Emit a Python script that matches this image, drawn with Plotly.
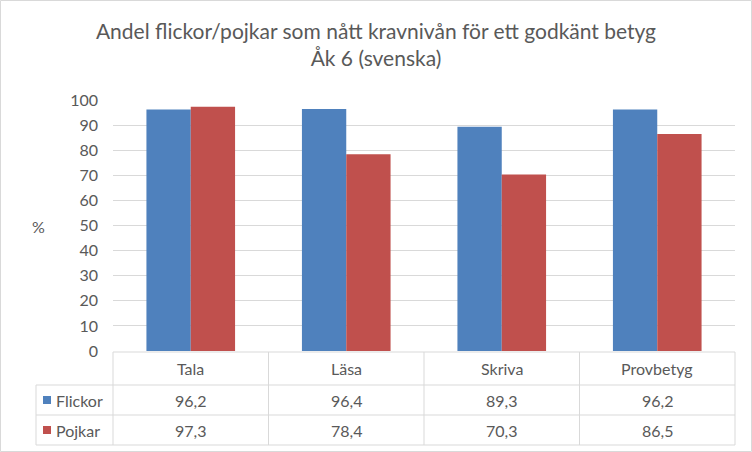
import plotly.graph_objects as go

categories = ["Tala", "Läsa", "Skriva", "Provbetyg"]
flickor = [96.2, 96.4, 89.3, 96.2]
pojkar = [97.3, 78.4, 70.3, 86.5]
series_names = ["Flickor", "Pojkar"]
colors = ["#4F81BD", "#C0504D"]
y_ticks = [0, 10, 20, 30, 40, 50, 60, 70, 80, 90, 100]

W, H = 752, 452
L, R, T, B = 113, 735, 100, 351
FONT = "Lato"
GRID = "#D9D9D9"
TXT = "#595959"

def px(x):
    return (x - L) / (R - L)

def py(y):
    return (B - y) / (B - T)

fig = go.Figure()
for name, vals, col in zip(series_names, [flickor, pojkar], colors):
    fig.add_trace(go.Bar(x=categories, y=vals, name=name, marker_color=col,
                         marker_line_width=0, showlegend=False))

shapes = []
row_y = [352, 385, 415, 445]
shapes.append(dict(type="line", xref="paper", yref="paper", x0=0, x1=1, y0=py(row_y[0]), y1=py(row_y[0]),
                   line=dict(color=GRID, width=1)))
for yy in row_y[1:]:
    shapes.append(dict(type="line", xref="paper", yref="paper", x0=px(36), x1=1, y0=py(yy), y1=py(yy),
                       line=dict(color=GRID, width=1)))
for i in range(5):
    shapes.append(dict(type="line", xref="paper", yref="paper", x0=i / 4, x1=i / 4, y0=py(row_y[0]), y1=py(row_y[3]),
                       line=dict(color=GRID, width=1)))
shapes.append(dict(type="line", xref="paper", yref="paper", x0=px(36), x1=px(36), y0=py(row_y[1]), y1=py(row_y[3]),
                   line=dict(color=GRID, width=1)))
for k, col in enumerate(colors):
    cy = (row_y[k + 1] + row_y[k + 2]) / 2
    shapes.append(dict(type="rect", xref="paper", yref="paper", x0=px(43), x1=px(51), y0=py(cy + 4), y1=py(cy - 4),
                       fillcolor=col, line=dict(width=0)))
shapes.append(dict(type="rect", xref="paper", yref="paper", x0=px(0.5), x1=px(W - 0.5), y0=py(H - 0.5), y1=py(0.5),
                   line=dict(color="#D9D9D9", width=1)))

annotations = []
cat_y = (row_y[0] + row_y[1]) / 2
for i, c in enumerate(categories):
    annotations.append(dict(x=(i + 0.5) / 4, y=py(cat_y), xref="paper", yref="paper", text=c, showarrow=False,
                            font=dict(size=16, color=TXT, family=FONT), xanchor="center", yanchor="middle"))
for k, (name, vals) in enumerate(zip(series_names, [flickor, pojkar])):
    cy = (row_y[k + 1] + row_y[k + 2]) / 2
    annotations.append(dict(x=px(54), y=py(cy), xref="paper", yref="paper", text=name, showarrow=False,
                            font=dict(size=16, color=TXT, family=FONT), xanchor="left", yanchor="middle"))
    for i, v in enumerate(vals):
        annotations.append(dict(x=(i + 0.5) / 4, y=py(cy), xref="paper", yref="paper",
                                text=f"{v:.1f}".replace(".", ","), showarrow=False,
                                font=dict(size=16, color=TXT, family=FONT), xanchor="center", yanchor="middle"))
annotations.append(dict(x=px(38), y=py(226), xref="paper", yref="paper", text="%", showarrow=False,
                        font=dict(size=16, color=TXT, family=FONT), xanchor="center", yanchor="middle"))

fig.update_layout(
    width=W, height=H,
    margin=dict(l=L, r=W - R, t=T, b=H - B),
    paper_bgcolor="white", plot_bgcolor="white",
    title=dict(text="Andel flickor/pojkar som nått kravnivån för ett godkänt betyg<br>Åk 6 (svenska)",
               x=0.5, xref="container", xanchor="center", y=1 - 39 / H, yanchor="middle",
               font=dict(size=21, color=TXT, family=FONT)),
    barmode="group", bargap=0.43, bargroupgap=0,
    xaxis=dict(showticklabels=False, showline=False, ticks="", showgrid=False),
    yaxis=dict(range=[0, 100], tickvals=y_ticks, showgrid=True, gridcolor=GRID, gridwidth=1,
               zeroline=False, showline=False, ticks="", tickfont=dict(size=16, color=TXT, family=FONT),
               ticklabelstandoff=14),
    shapes=shapes, annotations=annotations,
)
fig.write_html("out.html")
